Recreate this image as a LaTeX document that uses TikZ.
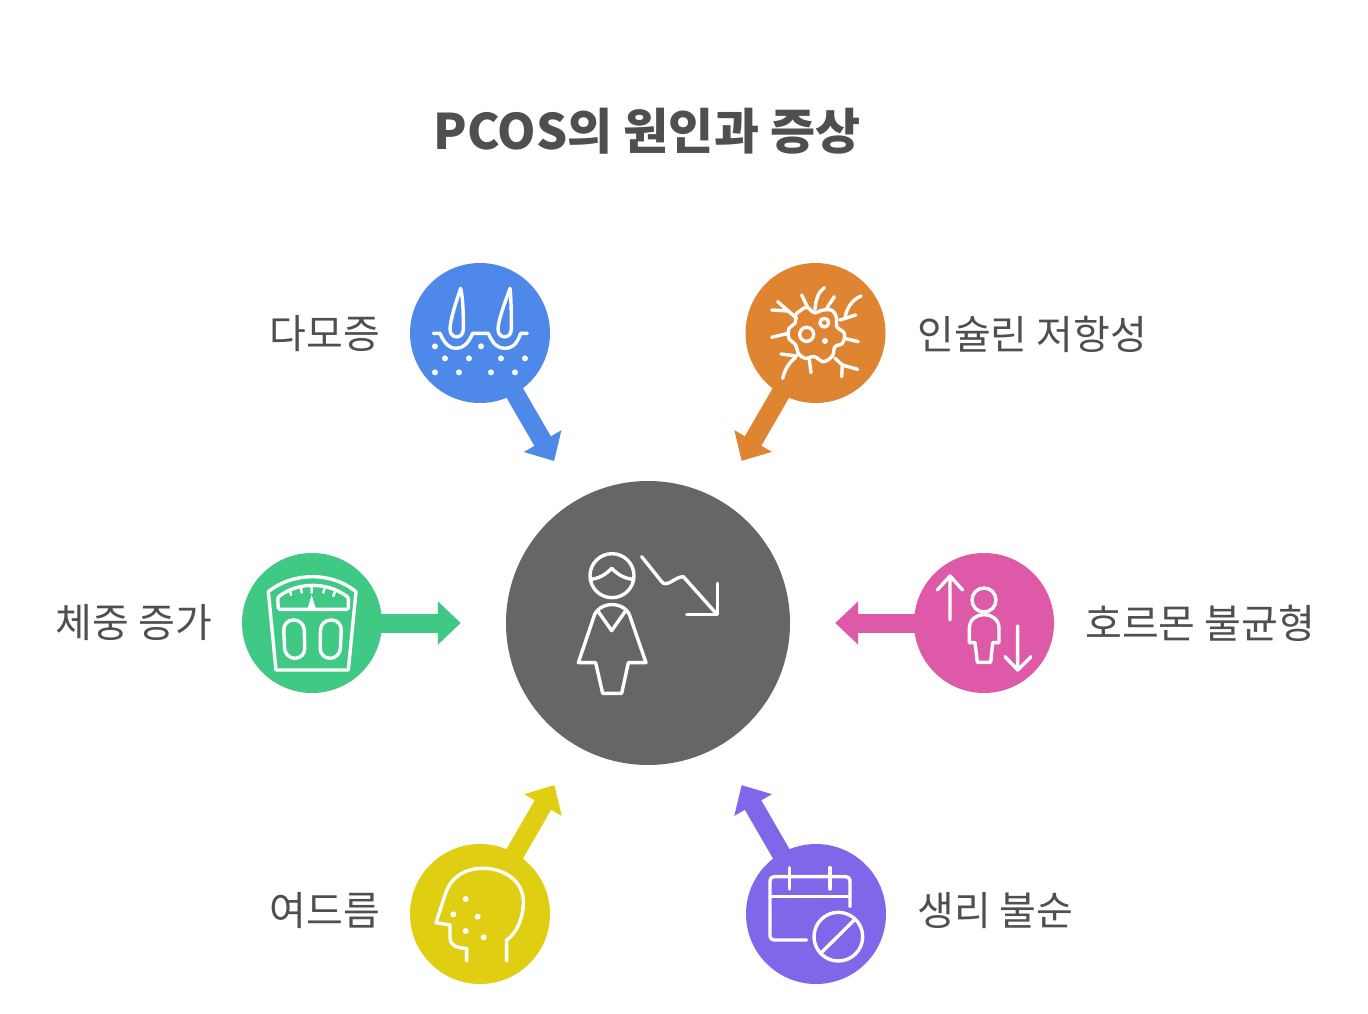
\documentclass[tikz,border=0pt]{standalone}
\usepackage{fontspec}
\setmainfont{Noto Sans CJK KR}
\usetikzlibrary{arrows.meta}
\definecolor{hairblue}{HTML}{4E88E8}
\definecolor{cellorange}{HTML}{DF8430}
\definecolor{scalegreen}{HTML}{40C885}
\definecolor{hormonepink}{HTML}{DF59A9}
\definecolor{acneyellow}{HTML}{E0CE13}
\definecolor{cyclepurple}{HTML}{8066E8}
\definecolor{centergrey}{HTML}{666666}
\definecolor{labelgrey}{HTML}{4F4F4F}
\tikzset{
  spot/.style={circle,fill=#1,minimum size=140pt,inner sep=0pt},
  feed/.style={#1,line width=19pt,shorten <=-2pt,shorten >=45pt,
    -{Triangle[length=23pt,width=42pt]}},
  lab/.style={text=labelgrey,inner sep=0pt,font=\fontsize{40}{46}\selectfont},
  icon/.style={white,line width=3.4pt,line cap=round,line join=round},
  dot/.style={white,fill=white,draw=none}
}
\begin{document}
\begin{tikzpicture}[x=1pt,y=-1pt]
  \useasboundingbox (0,0) rectangle (1368,1014);
  \node (title) at (647,131) {\fontsize{49}{56}\selectfont\bfseries\color{labelgrey}PCOS의 원인과 증상};
  \node[circle,fill=centergrey,minimum size=284pt,inner sep=0pt] (center) at (648,623) {};
  \node[spot=hairblue] (hair) at (480,333) {};
  \node[spot=cellorange] (cell) at (815.5,333) {};
  \node[spot=scalegreen] (scale) at (312,623) {};
  \node[spot=hormonepink] (hormone) at (984,623) {};
  \node[spot=acneyellow] (acne) at (480,914) {};
  \node[spot=cyclepurple] (cycle) at (816,914) {};
  \draw[feed=hairblue] (hair)--(center);
  \draw[feed=cellorange] (cell)--(center);
  \draw[feed=scalegreen] (scale)--(center);
  \draw[feed=hormonepink] (hormone)--(center);
  \draw[feed=acneyellow] (acne)--(center);
  \draw[feed=cyclepurple] (cycle)--(center);
  \node[lab,anchor=east] (hairlab) at (380,334) {다모증};
  \node[lab,anchor=west] (celllab) at (917,334) {인슐린 저항성};
  \node[lab,anchor=east] (scalelab) at (212,623) {체중 증가};
  \node[lab,anchor=west] (hormonelab) at (1085,623) {호르몬 불균형};
  \node[lab,anchor=east] (acnelab) at (380,911) {여드름};
  \node[lab,anchor=west] (cyclelab) at (917,911) {생리 불순};
  \begin{scope}[shift={(400,250)},scale=1/3]
    \draw[icon] (100,250)--(120,250) .. controls (135,285) and (150,295) .. (168,295) .. controls (190,295) and (205,280) .. (218,250)--(265,250) .. controls (280,285) and (295,295) .. (315,295) .. controls (335,295) and (350,285) .. (362,250)--(382,250);
    \draw[icon] (182,115) .. controls (170,150) and (150,210) .. (150,238) .. controls (150,268) and (190,268) .. (190,238) .. controls (190,200) and (190,150) .. (182,115)--cycle;
    \draw[icon] (330,115) .. controls (318,150) and (294,210) .. (294,238) .. controls (294,268) and (334,268) .. (334,238) .. controls (334,200) and (334,150) .. (330,115)--cycle;
    \foreach \px/\py in {105/289,135/325,207/325,243/289,303/325,375/325,105/367,177/367,273/367,345/367}
      \fill[dot] (\px,\py) circle (9pt);
  \end{scope}
  \begin{scope}[shift={(725,250)},scale=1/3]
    \draw[icon] plot[smooth cycle,tension=.6] coordinates {(222,185) (245,172) (268,188) (295,180) (322,182) (335,205) (335,230) (358,250) (352,280) (330,290) (322,318) (295,335) (268,320) (240,325) (220,310) (212,285) (192,265) (192,235) (210,220) (212,195)};
    \draw[icon] (245,253) circle (21pt);
    \draw[icon] (298,218) circle (13pt);
    \fill[dot] (300,273) circle (9pt);
    \draw[icon] (215,205)--(190,183)--(140,180) (190,183)--(158,155);
    \draw[icon] (270,178) .. controls (272,150) and (280,125) .. (298,113);
    \draw[icon] (248,172)--(230,135) (305,175)--(328,140);
    \draw[icon] (345,210)--(392,195) (360,203) .. controls (365,175) and (380,150) .. (408,138);
    \draw[icon] (190,250)--(140,262) (358,265)--(400,275);
    \draw[icon] (215,318)--(168,312) (212,322) .. controls (195,335) and (180,355) .. (173,385);
    \draw[icon] (253,330)--(258,368);
    \draw[icon] (330,325)--(352,345)--(398,358) (352,345)--(350,380);
  \end{scope}
  \begin{scope}[shift={(230,540)},scale=1/3]
    \draw[icon] (115,155) .. controls (190,95) and (305,95) .. (378,155)--(355,390)--(138,390)--cycle;
    \draw[icon,rounded corners=1.5pt] (143,172) .. controls (205,125) and (290,125) .. (355,172)--(355,208)--(145,208)--cycle;
    \draw[icon,line width=2.5pt] (180,150)--(183,165) (213,145)--(215,158) (245,140)--(245,158) (283,147)--(280,158) (315,155)--(310,168);
    \fill[dot] (245,165)--(232,208)--(258,208)--cycle;
    \draw[icon,rounded corners=10pt] (160,240)--(222,240)--(225,355)--(165,355)--cycle;
    \draw[icon,rounded corners=10pt] (272,240)--(335,240)--(330,355)--(270,355)--cycle;
  \end{scope}
  \begin{scope}[shift={(825,540)},scale=1/3]
    \draw[icon] (375,240)--(375,108) (337,150)--(375,108)--(413,150);
    \draw[icon] (578,258)--(578,390) (540,350)--(578,390)--(618,350);
    \draw[icon] (477,180) circle (36pt);
    \draw[icon] (433,308)--(433,265) .. controls (433,210) and (522,210) .. (522,265)--(522,308)--(503,308)--(497,367)--(457,367)--(450,308)--cycle;
  \end{scope}
  \begin{scope}[shift={(400,775)},scale=1/3]
    \draw[icon] (320,558)--(320,495) .. controls (350,475) and (370,430) .. (370,380) .. controls (370,320) and (315,280) .. (250,280) .. controls (190,280) and (150,310) .. (135,360)--(108,443)--(150,450)--(150,490) .. controls (150,510) and (170,520) .. (200,520)--(200,558);
    \foreach \px/\py in {197/372,160/418,233/425,197/468,251/487}
      \fill[dot] (\px,\py) circle (9pt);
  \end{scope}
  \begin{scope}[shift={(725,775)},scale=1/3]
    \draw[icon,rounded corners=4pt] (375,395)--(375,305)--(135,305)--(135,495)--(245,495);
    \draw[icon] (135,365)--(375,365) (194,278)--(194,342) (315,278)--(315,342);
    \draw[icon] (340,485) circle (73pt);
    \draw[icon] (292,530)--(388,435);
  \end{scope}
  \begin{scope}[shift={(560,540)},scale=1/3]
    \draw[icon] (156,107) circle (66pt);
    \draw[icon] (92,118) .. controls (125,115) and (145,95) .. (155,85) .. controls (168,97) and (185,115) .. (220,118);
    \draw[icon] (100,235) .. controls (112,180) and (200,180) .. (212,235)--(258,368)--(205,368)--(185,460)--(128,460)--(107,368)--(55,368)--cycle;
    \draw[icon] (115,215)--(155,272)--(195,215);
    \draw[icon] (245,50)--(305,125) .. controls (320,145) and (345,110) .. (370,110)--(470,222);
    \draw[icon] (380,224)--(472,224)--(472,130);
  \end{scope}
\end{tikzpicture}
\end{document}
